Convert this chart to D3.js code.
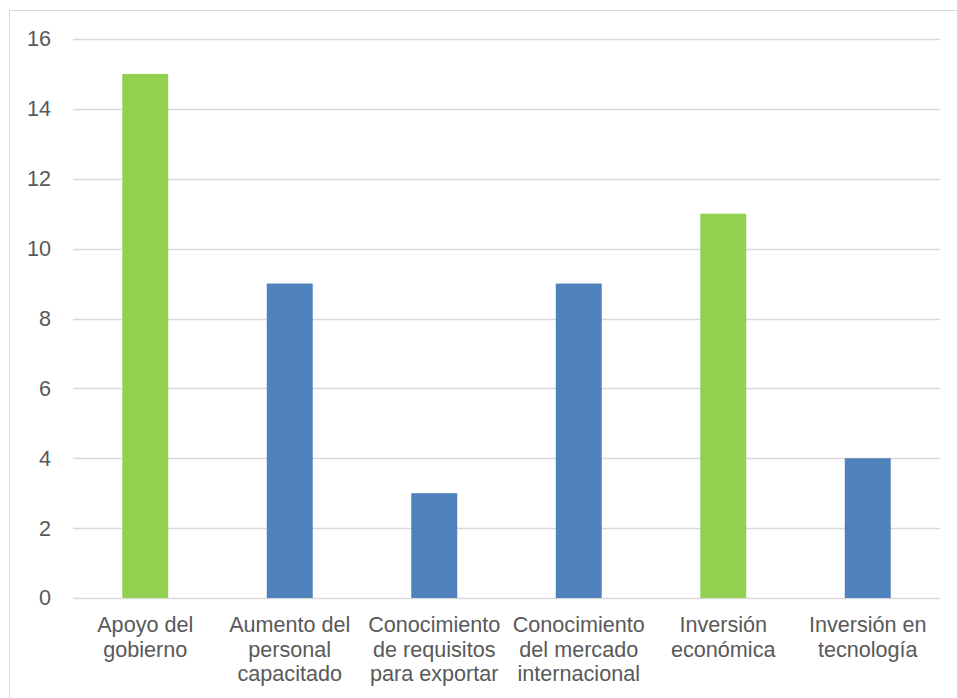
<!DOCTYPE html>
<html>
<head>
<meta charset="utf-8">
<script src="https://cdn.jsdelivr.net/npm/d3@7"></script>
<style>
  html, body { margin: 0; padding: 0; background: #fff; }
  svg { display: block; }
  text { font-family: "Liberation Sans", Arial, sans-serif; fill: #595959; }
</style>
</head>
<body>
<svg id="chart" width="957" height="698"></svg>
<script>
// Factors for export readiness: count of mentions per factor
const categories = [
  ["Apoyo del", "gobierno"],
  ["Aumento del", "personal", "capacitado"],
  ["Conocimiento", "de requisitos", "para exportar"],
  ["Conocimiento", "del mercado", "internacional"],
  ["Inversión", "económica"],
  ["Inversión en", "tecnología"]
];
const values = [15, 9, 3, 9, 11, 4];
const highlighted = [true, false, false, false, true, false];
const yTicks = [0, 2, 4, 6, 8, 10, 12, 14, 16];

const GREEN = "#92d050";
const BLUE = "#4f81bd";
const GRID = "#d9d9d9";
const FONT_SIZE = 21.6;

const svg = d3.select("#chart");
const margin = { left: 73, right: 17 };
const W = 957, H = 698;

// chart frame
svg.append("rect")
  .attr("x", 9.5).attr("y", 10.5)
  .attr("width", W + 10).attr("height", H + 10)
  .attr("fill", "none").attr("stroke", GRID).attr("stroke-width", 1);

const keys = categories.map((c, i) => i);
const x = d3.scaleBand()
  .domain(keys)
  .range([margin.left, W - margin.right])
  .paddingInner(0.682)
  .paddingOuter(0.341);

const y = d3.scaleLinear()
  .domain([0, 16])
  .range([598, 39]);

// horizontal gridlines
svg.append("g")
  .selectAll("line")
  .data(yTicks)
  .join("line")
  .attr("x1", margin.left)
  .attr("x2", W - margin.right)
  .attr("y1", d => Math.round(y(d)) + 0.5)
  .attr("y2", d => Math.round(y(d)) + 0.5)
  .attr("stroke", GRID)
  .attr("stroke-width", 1.3);

// y axis labels
const yAxis = d3.axisLeft(y).tickValues(yTicks).tickSize(0).tickPadding(0);
const gy = svg.append("g")
  .attr("transform", "translate(51,0)")
  .call(yAxis);
gy.select(".domain").remove();
gy.selectAll("text")
  .attr("font-size", FONT_SIZE)
  .attr("fill", "#595959")
  .attr("font-family", "Liberation Sans, Arial, sans-serif");

// bars
svg.append("g")
  .selectAll("rect")
  .data(values)
  .join("rect")
  .attr("x", (d, i) => x(i))
  .attr("width", x.bandwidth())
  .attr("y", d => y(d))
  .attr("height", d => y(0) - y(d))
  .attr("fill", (d, i) => highlighted[i] ? GREEN : BLUE);

// category labels (multi-line)
const lab = svg.append("g")
  .selectAll("text")
  .data(categories)
  .join("text")
  .attr("text-anchor", "middle")
  .attr("font-size", FONT_SIZE)
  .attr("x", (d, i) => x(i) + x.bandwidth() / 2)
  .attr("y", 632);
lab.selectAll("tspan")
  .data(d => d)
  .join("tspan")
  .attr("x", function () { return d3.select(this.parentNode).attr("x"); })
  .attr("dy", (d, j) => j === 0 ? 0 : 24.5)
  .text(d => d);
</script>
</body>
</html>
